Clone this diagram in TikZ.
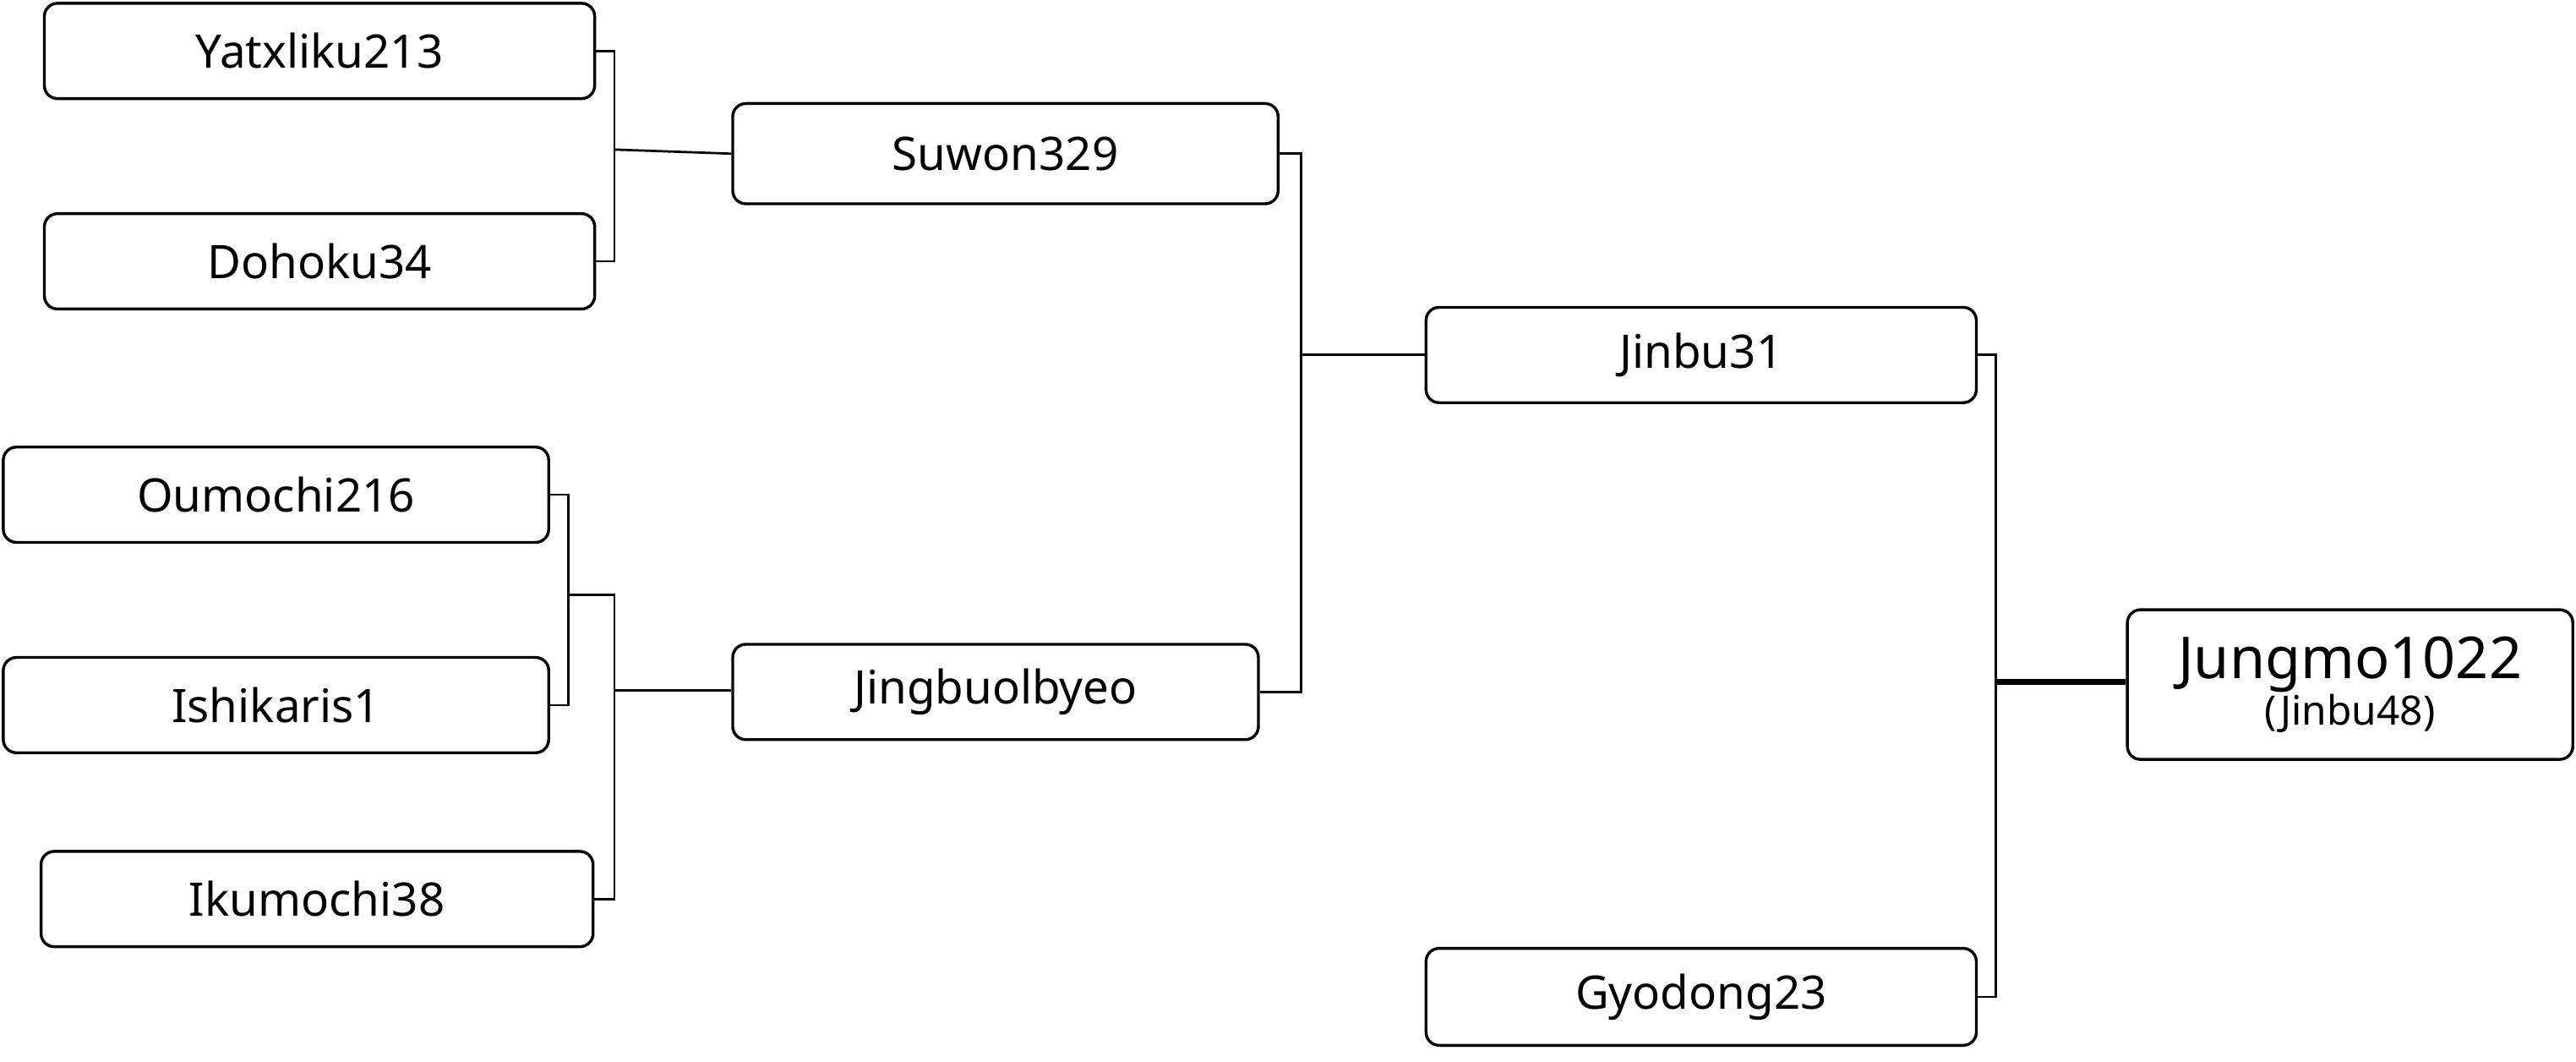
\documentclass[tikz,border=0pt]{standalone}
\usepackage{fontspec}
\setmainfont{Noto Sans}
\begin{document}
\begin{tikzpicture}[x=0.01cm,y=-0.01cm,
  box/.style={draw,line width=0.5pt,rounded corners=0.08cm,inner sep=0pt,font=\fontsize{8}{9}\selectfont\bfseries},
  ln/.style={line width=0.4pt}]
\useasboundingbox (0,0) rectangle (1568,646);
\newcommand\bx[6]{\node[box,minimum width=#4*0.01cm - #2*0.01cm,minimum height=#5*0.01cm - #3*0.01cm] (#1) at ({(#2+#4)/2},{(#3+#5)/2}) {#6};}
\bx{ya}{27}{2}{362}{60}{Yatxliku213}
\bx{do}{27}{130}{362}{188}{Dohoku34}
\bx{su}{446}{63}{778}{124}{Suwon329}
\bx{ji}{868}{187}{1203}{245}{Jinbu31}
\bx{ou}{2}{272}{334}{330}{Oumochi216}
\bx{is}{2}{400}{334}{458}{Ishikaris1}
\bx{ik}{25}{518}{361}{576}{Ikumochi38}
\bx{jg}{446}{392}{766}{450}{Jingbuolbyeo}
\bx{gy}{868}{577}{1203}{636}{Gyodong23}
\node[box,minimum width=2.71cm,minimum height=0.91cm,align=center] (ju) at (1430.5,416.5) {{\fontsize{10}{11}\selectfont Jungmo1022}\\[-1pt]{\fontsize{7}{8}\selectfont (Jinbu48)}};
\coordinate (c1) at (374,91);
\draw[ln] (ya.east) -| (374,91) |- (do.east);
\draw[ln] (c1) -- (su.west);
\coordinate (c2) at (792,216);
\draw[ln] (su.east) -| (c2) |- (jg.east);
\draw[ln] (c2) -- (ji.west);
\coordinate (c3) at (1215,415);
\draw[ln] (ji.east) -| (c3) |- (gy.east);
\draw[line width=1pt] (c3) -- (ju.west |- c3);
\coordinate (c4) at (346,362);
\draw[ln] (ou.east) -| (c4) |- (is.east);
\coordinate (c5) at (374,420);
\draw[ln] (c4) -- (374,362) -- (c5) |- (ik.east);
\draw[ln] (c5) -- (jg.west |- c5);
\end{tikzpicture}
\end{document}
